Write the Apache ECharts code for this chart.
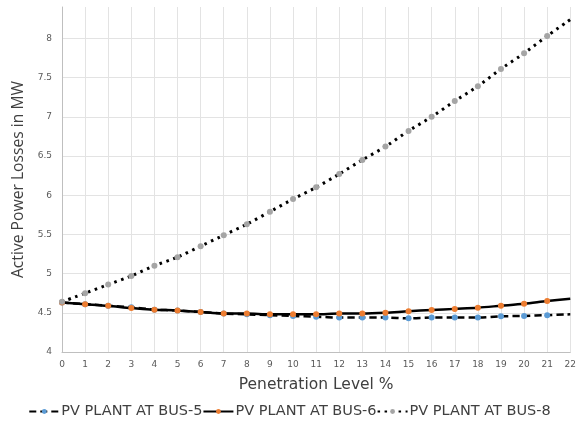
<!DOCTYPE html>
<html>
<head>
<meta charset="utf-8">
<script src="https://cdn.jsdelivr.net/npm/echarts@6/dist/echarts.min.js"></script>
<style>
  * { margin: 0; padding: 0; }
  body { background: #fff; }
</style>
</head>
<body>
<div id="main" style="width: 579px;height: 424px;"></div>
<script>
  // penetration level % (x axis)
  var levels = ['0','1','2','3','4','5','6','7','8','9','10','11','12','13','14','15','16','17','18','19','20','21','22']
  // active power losses in MW
  var bus5 = [4.63, 4.61, 4.59, 4.57, 4.54, 4.53, 4.51, 4.49, 4.48, 4.47, 4.46, 4.45, 4.44, 4.44, 4.44, 4.43, 4.44, 4.44, 4.44, 4.455, 4.46, 4.47, 4.48]
  var bus6 = [4.63, 4.61, 4.59, 4.56, 4.54, 4.53, 4.51, 4.49, 4.49, 4.48, 4.48, 4.48, 4.49, 4.49, 4.50, 4.52, 4.535, 4.55, 4.565, 4.59, 4.615, 4.65, 4.68]
  var bus8 = [4.64, 4.75, 4.86, 4.97, 5.10, 5.21, 5.35, 5.49, 5.63, 5.79, 5.95, 6.10, 6.27, 6.45, 6.62, 6.82, 7.00, 7.20, 7.39, 7.61, 7.81, 8.03, 8.24]
  var names = ['PV PLANT AT BUS-5', 'PV PLANT AT BUS-6', 'PV PLANT AT BUS-8']

  var chart = echarts.init(document.getElementById('main'))
  var wide = '"DejaVu Sans", Verdana, sans-serif'
  var narrow = '"Open Sans", "DejaVu Sans", sans-serif'
  // last point sits on the plot edge, no marker there
  var markSize = function (v, p) { return p.dataIndex === levels.length - 1 ? 0 : 6 }

  chart.setOption({
    animation: false,
    grid: { left: 62, right: 8, top: 7, bottom: 72 },
    legend: {
      data: names,
      bottom: 0,
      left: 'center',
      itemGap: 0,
      itemWidth: 30,
      itemHeight: 6,
      textStyle: { fontFamily: wide, fontSize: 14.5, color: '#404040', padding: [0, 0, 0, -3] }
    },
    xAxis: {
      type: 'category',
      data: levels,
      boundaryGap: false,
      name: 'Penetration Level %',
      nameLocation: 'middle',
      nameGap: 25,
      nameTextStyle: { fontFamily: wide, fontSize: 15.5, color: '#404040' },
      axisLine: { lineStyle: { color: '#bfbfbf' } },
      axisTick: { show: false },
      axisLabel: { fontFamily: wide, fontSize: 9, color: '#595959', interval: 0, margin: 8 },
      splitLine: { show: true, lineStyle: { color: '#e3e3e3' } }
    },
    yAxis: {
      type: 'value',
      min: 4,
      max: 8.4,
      interval: 0.5,
      name: 'Active Power Losses in MW',
      nameLocation: 'middle',
      nameGap: 33,
      nameTextStyle: { fontFamily: narrow, fontSize: 15.7, color: '#404040' },
      axisLine: { show: true, lineStyle: { color: '#bfbfbf' } },
      axisTick: { show: false },
      axisLabel: { fontFamily: wide, fontSize: 9, color: '#595959', showMaxLabel: false, margin: 10 },
      splitLine: { show: true, showMaxLine: false, lineStyle: { color: '#e3e3e3' } }
    },
    series: [
      {
        name: names[0],
        type: 'line',
        data: bus5,
        smooth: 0.3,
        symbol: 'circle',
        symbolSize: markSize,
        itemStyle: { color: '#5b9bd5' },
        lineStyle: { color: '#000', width: 2.5, type: [7, 4] },
        z: 2
      },
      {
        name: names[1],
        type: 'line',
        data: bus6,
        smooth: 0.3,
        symbol: 'circle',
        symbolSize: markSize,
        itemStyle: { color: '#ed7d31' },
        lineStyle: { color: '#000', width: 2.5 },
        z: 3
      },
      {
        name: names[2],
        type: 'line',
        data: bus8,
        smooth: 0.3,
        symbol: 'circle',
        symbolSize: markSize,
        itemStyle: { color: '#a5a5a5' },
        lineStyle: { color: '#000', width: 3, type: [2.5, 4.5] },
        z: 4
      }
    ]
  })
</script>
</body>
</html>
